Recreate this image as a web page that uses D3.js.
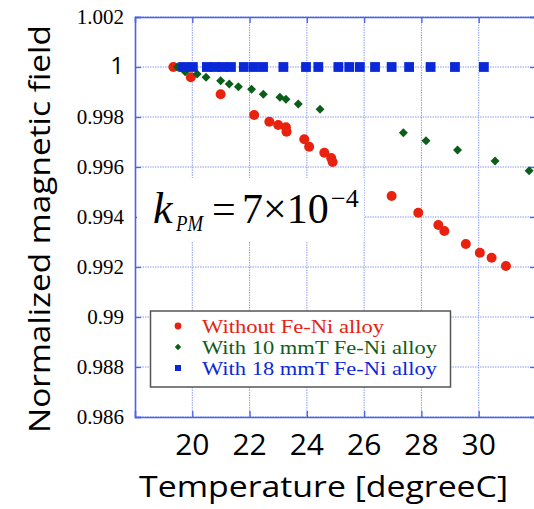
<!DOCTYPE html>
<html>
<head>
<meta charset="utf-8">
<script src="https://cdn.jsdelivr.net/npm/d3@7"></script>
<style>
html,body{margin:0;padding:0;background:#fff;overflow:hidden;}
svg{display:block;}
</style>
</head>
<body>
<svg id="chart" width="534" height="509"></svg>
<script>
// ---- data ----
const redT = [19.34, 19.95, 20.99, 22.16, 22.69, 23.00, 23.27, 23.29, 23.91, 24.08, 24.61, 24.85, 24.90, 26.96, 27.89, 28.59, 28.80, 29.55, 30.04, 30.45, 30.95];
const redV = [1.0000, 0.99959, 0.99891, 0.99808, 0.99781, 0.99768, 0.99759, 0.99741, 0.99711, 0.99681, 0.99657, 0.99636, 0.99620, 0.99484, 0.99417, 0.99368, 0.99344, 0.99292, 0.99257, 0.99237, 0.99204];
const greenT = [19.48, 19.75, 20.17, 20.48, 20.99, 21.29, 21.61, 22.07, 22.48, 23.06, 23.27, 23.70, 24.46, 27.37, 28.16, 29.26, 30.57, 31.76];
const greenV = [1.0000, 0.99981, 0.99972, 0.99959, 0.99945, 0.99932, 0.99921, 0.99911, 0.99891, 0.99879, 0.99871, 0.99852, 0.99831, 0.99737, 0.99705, 0.99668, 0.99624, 0.99585];
const blueT = [19.68, 20.02, 20.51, 20.79, 21.07, 21.35, 21.80, 22.15, 22.47, 23.18, 23.97, 24.40, 25.10, 25.48, 25.85, 26.38, 26.96, 27.57, 28.32, 29.17, 30.18];
const blueV = [1, 1, 1, 1, 1, 1, 1, 1, 1, 1, 1, 1, 1, 1, 1, 1, 1, 1, 1, 1, 1];
const xTicks = [20, 22, 24, 26, 28, 30];
const yTicks = [0.986, 0.988, 0.99, 0.992, 0.994, 0.996, 0.998, 1.0, 1.002];
const yTickLabels = ["0.986", "0.988", "0.99", "0.992", "0.994", "0.996", "0.998", "1", "1.002"];
const seriesNames = ["Without Fe-Ni alloy", "With 10 mmT Fe-Ni alloy", "With 18 mmT Fe-Ni alloy"];
const seriesColors = ["#e8220e", "#0b5e1a", "#0a28d8"];
const xTitle = "Temperature [degreeC]";
const yTitle = "Normalized magnetic field";

// ---- layout ----
const L = 135, T = 17, R = 536, B = 417;
const svg = d3.select("#chart");
const x = d3.scaleLinear().domain([18, 32]).range([L, R]);
const y = d3.scaleLinear().domain([0.986, 1.002]).range([B, T]);

const frameColor = "#4a62e4";
const gridColor = "#8b9cf0";

// grid
const g = svg.append("g");
g.selectAll("line.gx").data(xTicks).join("line")
  .attr("x1", d => x(d)).attr("x2", d => x(d)).attr("y1", T).attr("y2", B)
  .attr("stroke", gridColor).attr("stroke-width", 1).attr("stroke-dasharray", "1.5,1");
g.selectAll("line.gy").data(yTicks).join("line")
  .attr("x1", L).attr("x2", R).attr("y1", d => y(d)).attr("y2", d => y(d))
  .attr("stroke", gridColor).attr("stroke-width", 1).attr("stroke-dasharray", "1.5,1");

// axes with inward ticks
const xAxisB = d3.axisBottom(x).tickValues(xTicks).tickSize(-6).tickFormat("");
const xAxisT = d3.axisTop(x).tickValues(xTicks).tickSize(-6).tickFormat("");
const yAxisL = d3.axisLeft(y).tickValues(yTicks).tickSize(-6).tickFormat("");
const yAxisR = d3.axisRight(y).tickValues(yTicks).tickSize(-6).tickFormat("");
[[xAxisB, `translate(0,${B})`], [xAxisT, `translate(0,${T})`], [yAxisL, `translate(${L},0)`], [yAxisR, `translate(${R},0)`]].forEach(([ax, tr]) => {
  const a = svg.append("g").attr("transform", tr).call(ax);
  a.selectAll("path.domain").attr("stroke", frameColor).attr("stroke-width", 1.6);
  a.selectAll(".tick line").attr("stroke", frameColor).attr("stroke-width", 1.3);
});

// tick labels
svg.append("g").selectAll("text").data(xTicks).join("text")
  .attr("x", d => x(d)).attr("y", 455)
  .attr("text-anchor", "middle")
  .attr("font-family", "'Open Sans', sans-serif").attr("font-size", 30)
  .attr("fill", "#000").text(d => d);
svg.append("g").selectAll("text").data(yTicks).join("text")
  .attr("x", 124).attr("y", d => y(d) + 7)
  .attr("text-anchor", "end")
  .attr("font-family", (d, i) => yTickLabels[i] === "1" ? "'Open Sans', sans-serif" : "'Liberation Serif', 'Times New Roman', serif")
  .attr("font-size", (d, i) => yTickLabels[i] === "1" ? 24 : 21)
  .attr("fill", "#000").text((d, i) => yTickLabels[i]);

// axis titles
svg.append("text").attr("x", 139).attr("y", 497)
  .attr("font-family", "'Open Sans', sans-serif").attr("font-size", 29)
  .attr("textLength", 369).attr("lengthAdjust", "spacingAndGlyphs")
  .attr("fill", "#000").text(xTitle);
svg.append("text").attr("transform", "translate(50,433) rotate(-90)")
  .attr("font-family", "'Open Sans', sans-serif").attr("font-size", 29)
  .attr("textLength", 408).attr("lengthAdjust", "spacingAndGlyphs")
  .attr("fill", "#000").text(yTitle);

// marks
const marks = svg.append("g");
const toPts = (ts, vs) => ts.map((t, i) => [t, vs[i]]);
marks.selectAll("circle").data(toPts(redT, redV)).join("circle")
  .attr("cx", d => x(d[0])).attr("cy", d => y(d[1])).attr("r", 5)
  .attr("fill", seriesColors[0]);
const diamond = d3.symbol().type(d3.symbolSquare).size(40);
marks.selectAll("path.dia").data(toPts(greenT, greenV)).join("path").attr("class", "dia")
  .attr("d", diamond())
  .attr("transform", d => `translate(${x(d[0])},${y(d[1])}) rotate(45)`)
  .attr("fill", seriesColors[1]);
const square = d3.symbol().type(d3.symbolSquare).size(96);
marks.selectAll("path.sq").data(toPts(blueT, blueV)).join("path").attr("class", "sq")
  .attr("d", square())
  .attr("transform", d => `translate(${x(d[0])},${y(d[1])})`)
  .attr("fill", seriesColors[2]);

// k_PM annotation
const ann = svg.append("g");
ann.append("rect").attr("x", 137).attr("y", 178).attr("width", 227).attr("height", 63).attr("fill", "#fff");
const serif = "'Liberation Serif', 'Times New Roman', serif";
ann.append("text").attr("x", 153).attr("y", 223).attr("font-family", serif).attr("font-style", "italic").attr("font-size", 44).text("k");
ann.append("text").attr("x", 176).attr("y", 231).attr("font-family", serif).attr("font-style", "italic").attr("font-size", 23)
  .attr("textLength", 27).attr("lengthAdjust", "spacingAndGlyphs").text("PM");
ann.append("text").attr("x", 212).attr("y", 223).attr("font-family", serif).attr("font-size", 42).text("=");
ann.append("text").attr("x", 242).attr("y", 223).attr("font-family", serif).attr("font-size", 42).text("7×10");
ann.append("text").attr("x", 331).attr("y", 207).attr("font-family", serif).attr("font-size", 26).text("−4");

// legend
const lg = svg.append("g");
lg.append("rect").attr("x", 150.5).attr("y", 311).attr("width", 300).attr("height", 76)
  .attr("fill", "#fff").attr("stroke", "#555").attr("stroke-width", 1.5);
const legSyms = [d3.symbol().type(d3.symbolCircle).size(36), d3.symbol().type(d3.symbolSquare).size(20), d3.symbol().type(d3.symbolSquare).size(36)];
const legWidths = [182, 235, 235];
seriesNames.forEach((name, i) => {
  const yy = 333 + i * 21;
  lg.append("path").attr("d", legSyms[i]())
    .attr("transform", `translate(178,${yy - 7})` + (i === 1 ? " rotate(45)" : ""))
    .attr("fill", seriesColors[i]);
  lg.append("text").attr("x", 202).attr("y", yy)
    .attr("font-family", serif).attr("font-size", 18.5)
    .attr("textLength", legWidths[i]).attr("lengthAdjust", "spacingAndGlyphs")
    .attr("fill", seriesColors[i]).text(name);
});
</script>
</body>
</html>
